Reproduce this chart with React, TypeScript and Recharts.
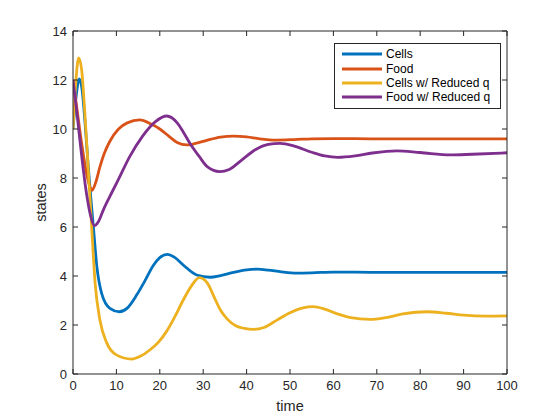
import React from 'react';
import { LineChart, Line, XAxis, YAxis, Legend } from 'recharts';

// ---- data ----
const xTicks = [0, 10, 20, 30, 40, 50, 60, 70, 80, 90, 100];
const yTicks = [0, 2, 4, 6, 8, 10, 12, 14];

const cellsTime = [0, 0.7, 1.45, 2.1, 2.8, 3.5, 4.1, 4.7, 5.5, 6.6, 8.5, 10.7, 12.5, 14.7, 16.5, 18.5, 20, 21.7, 23.5, 25.4, 28.5, 31.6, 34, 37, 40, 42.5, 45, 48, 51.5, 55, 60, 70, 80, 90, 100];
const cellsValues = [10.0, 11.3, 12.05, 11.6, 10.2, 8.5, 7.2, 6.0, 4.38, 3.29, 2.68, 2.54, 2.69, 3.23, 3.78, 4.43, 4.75, 4.88, 4.75, 4.45, 4.04, 3.95, 4.02, 4.15, 4.25, 4.28, 4.24, 4.17, 4.12, 4.13, 4.16, 4.15, 4.15, 4.15, 4.15];

const foodTime = [0, 1, 2, 3, 3.7, 4.4, 5.2, 6.2, 7.2, 8.5, 10.5, 12.5, 15.4, 18, 20, 22, 24, 26.2, 28, 31, 34, 37, 40, 43, 47, 51, 55, 60, 70, 80, 90, 100];
const foodValues = [12.0, 10.7, 9.4, 8.3, 7.75, 7.5, 7.8, 8.45, 9.0, 9.5, 10.0, 10.25, 10.37, 10.2, 10.0, 9.72, 9.45, 9.35, 9.4, 9.55, 9.67, 9.71, 9.68, 9.6, 9.55, 9.57, 9.6, 9.61, 9.6, 9.6, 9.6, 9.6];

const cellsRqTime = [0, 0.6, 1.3, 2.0, 2.6, 3.3, 4.3, 5.1, 6.2, 7.8, 10, 13.5, 15.5, 17.7, 19.7, 21.6, 23.5, 25.4, 27.3, 29.1, 31, 32.5, 34, 35.5, 37.5, 39.5, 41.5, 44, 47, 50, 53, 55.3, 58, 61, 64, 68.4, 72, 76, 81.5, 86, 90, 95, 100];
const cellsRqValues = [10.0, 11.8, 12.9, 12.4, 11.0, 9.0, 6.0, 3.7, 2.2, 1.26, 0.78, 0.61, 0.72, 0.98, 1.3, 1.75, 2.35, 3.02, 3.6, 3.93, 3.7, 3.15, 2.6, 2.25, 1.97, 1.86, 1.82, 1.9, 2.2, 2.5, 2.7, 2.75, 2.65, 2.45, 2.3, 2.23, 2.3, 2.45, 2.54, 2.48, 2.4, 2.36, 2.37];

const foodRqTime = [0, 1, 2, 3, 4, 4.9, 5.8, 7, 8.5, 10.5, 13, 16, 19, 21.6, 24, 25.5, 27, 29, 31, 33.8, 36, 39, 42, 45, 47.7, 51, 55, 58, 61, 65, 69, 74.6, 80, 87, 92, 100];
const foodRqValues = [12.0, 10.5, 8.9, 7.5, 6.5, 6.05, 6.2, 6.7, 7.25, 7.95, 8.85, 9.7, 10.3, 10.53, 10.25, 9.85, 9.4, 8.9, 8.45, 8.26, 8.35, 8.75, 9.15, 9.37, 9.41, 9.3, 9.05, 8.9, 8.84, 8.9, 9.02, 9.11, 9.04, 8.94, 8.97, 9.03];

const seriesNames = ['Cells', 'Food', 'Cells w/ Reduced q', 'Food w/ Reduced q'];
const seriesColors = ['#0072BD', '#D95319', '#EDB120', '#7E2F8E'];

const toPoints = (ts: number[], vs: number[]) => ts.map((t, i) => ({ t, v: vs[i] }));

const seriesData = [
  toPoints(cellsTime, cellsValues),
  toPoints(foodTime, foodValues),
  toPoints(cellsRqTime, cellsRqValues),
  toPoints(foodRqTime, foodRqValues),
];

const FONT = 'Arial, "Liberation Sans", Helvetica, sans-serif';
const AXIS = '#262626';

function LegendBox(props: any) {
  const payload: any[] = props.payload || [];
  const ordered = seriesNames
    .map((n) => payload.find((p) => p.value === n))
    .filter(Boolean);
  return (
    <div
      style={{
        boxSizing: 'border-box',
        width: 167,
        border: `1px solid ${AXIS}`,
        background: '#fff',
        padding: '3px 0 3px 7px',
        fontFamily: FONT,
        fontSize: 12,
        color: '#000',
      }}
    >
      {ordered.map((p: any) => (
        <div key={p.value} style={{ display: 'flex', alignItems: 'center', height: 14.4, whiteSpace: 'nowrap' }}>
          <svg width={40} height={4} style={{ marginRight: 4, flex: 'none' }}>
            <line x1={0} y1={2} x2={40} y2={2} stroke={p.color} strokeWidth={3} />
          </svg>
          <span>{p.value}</span>
        </div>
      ))}
    </div>
  );
}

export default function App() {
  return (
    <div style={{ position: 'absolute', left: 0, top: 0, width: 560, height: 420, background: '#fff' }}>
      <LineChart width={560} height={420} margin={{ top: 30, right: 52, bottom: 6, left: 28 }}>
        <XAxis
          xAxisId="b"
          dataKey="t"
          type="number"
          domain={[0, 100]}
          ticks={xTicks}
          allowDataOverflow
          orientation="bottom"
          height={40}
          tickSize={-5}
          tickMargin={12}
          stroke={AXIS}
          tick={{ fill: AXIS, fontSize: 13, fontFamily: FONT }}
          label={{ value: 'time', position: 'insideBottom', offset: 3, fill: AXIS, fontSize: 14.5, fontFamily: FONT }}
        />
        <XAxis
          xAxisId="top"
          dataKey="t"
          type="number"
          domain={[0, 100]}
          ticks={xTicks}
          allowDataOverflow
          orientation="top"
          height={1}
          tickSize={-5}
          tickFormatter={() => ''}
          stroke={AXIS}
        />
        <YAxis
          yAxisId="l"
          type="number"
          domain={[0, 14]}
          ticks={yTicks}
          allowDataOverflow
          width={45}
          tickSize={-5}
          tickMargin={11}
          stroke={AXIS}
          tick={{ fill: AXIS, fontSize: 13, fontFamily: FONT }}
          label={{ value: 'states', angle: -90, position: 'insideLeft', offset: 13, fill: AXIS, fontSize: 14.5, fontFamily: FONT, style: { textAnchor: 'middle' } }}
        />
        <YAxis
          yAxisId="r"
          orientation="right"
          type="number"
          domain={[0, 14]}
          ticks={yTicks}
          allowDataOverflow
          width={1}
          tickSize={-5}
          tickFormatter={() => ''}
          stroke={AXIS}
        />
        <Legend
          layout="vertical"
          align="center"
          verticalAlign="middle"
          wrapperStyle={{ left: 334, top: 43, width: 167 }}
          content={<LegendBox />}
        />
        {seriesData.map((d, i) => (
          <Line
            key={seriesNames[i]}
            xAxisId="b"
            yAxisId="l"
            data={d}
            dataKey="v"
            name={seriesNames[i]}
            type="monotone"
            stroke={seriesColors[i]}
            strokeWidth={2.8}
            dot={false}
            activeDot={false}
            isAnimationActive={false}
          />
        ))}
      </LineChart>
    </div>
  );
}
